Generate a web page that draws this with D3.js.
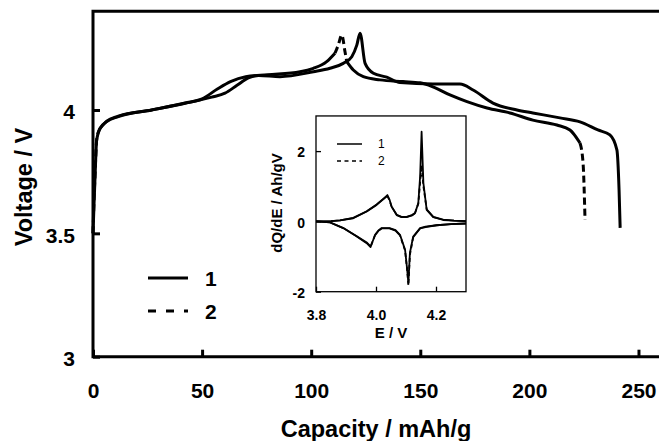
<!DOCTYPE html>
<html>
<head>
<meta charset="utf-8">
<script src="https://cdn.jsdelivr.net/npm/d3@7"></script>
<style>
  body { margin: 0; background: white; }
  text { font-family: "Liberation Sans", Arial, sans-serif; }
</style>
</head>
<body>
<div id="chart"></div>
<script>
// main chart: charge / discharge curves, capacity (mAh/g) vs voltage (V)
var capacity1 = [0, 0.4, 0.9, 1.7, 3.2, 6.3, 11.6, 26.9, 42.2, 54.4, 60.5, 66, 71.2, 76, 85.7, 101, 108.6, 114.7, 118.6, 120.9,
                 122.4, 124.7, 128.5, 134.6, 140.7, 155.8, 168.2, 174.2, 183.3, 194.3, 201.6, 214, 223.2, 231.4, 236.9, 240.1, 241.1, 241.6];
var voltage1 = [3.50, 3.60, 3.72, 3.88, 3.925, 3.953, 3.973, 4.0, 4.027, 4.052, 4.068, 4.10, 4.13, 4.14, 4.135, 4.155, 4.169, 4.189, 4.216, 4.263,
                4.311, 4.189, 4.149, 4.133, 4.111, 4.105, 4.105, 4.081, 4.028, 4.0, 3.988, 3.968, 3.952, 3.919, 3.899, 3.838, 3.676, 3.522];

var capacity2 = [0, 0.4, 0.9, 1.7, 3.2, 6.3, 11.6, 26.9, 42.2, 50, 57, 63, 70, 80, 94.9, 101, 107.1, 110.9, 112.4, 114,
                 115.5, 116.3, 119.3, 123.9, 131.5, 142.1, 149.9, 155.8, 163.6, 171.4, 180.6, 191.1, 201.6, 212.6, 218.6, 223.2, 224.6, 225.5];
var voltage2 = [3.50, 3.62, 3.73, 3.88, 3.925, 3.955, 3.975, 4.0, 4.028, 4.045, 4.085, 4.115, 4.135, 4.143, 4.155, 4.169, 4.196, 4.23, 4.263, 4.304,
                4.236, 4.196, 4.162, 4.135, 4.122, 4.115, 4.11, 4.094, 4.061, 4.034, 4.008, 3.988, 3.959, 3.939, 3.919, 3.866, 3.785, 3.554];

var xTicks = [0, 50, 100, 150, 200, 250];
var yTicks = [3, 3.5, 4];
var seriesNames = ["1", "2"];

// inset: dQ/dE vs E, oxidation branch (left to right) and reduction branch (right to left)
var insetOxE = [3.80, 3.85, 3.88, 3.924, 3.969, 4.002, 4.024, 4.038, 4.045, 4.052, 4.069, 4.085, 4.102, 4.12, 4.13, 4.141, 4.147, 4.152, 4.158, 4.169, 4.191, 4.224, 4.26, 4.30];
var insetOxDQ1 = [0.0, 0.01, 0.03, 0.09, 0.28, 0.47, 0.63, 0.75, 0.62, 0.42, 0.18, 0.12, 0.12, 0.17, 0.23, 0.52, 1.27, 2.55, 1.09, 0.33, 0.12, 0.04, 0.02, 0.01];
var insetOxDQ2 = [0.0, 0.01, 0.03, 0.10, 0.29, 0.48, 0.64, 0.72, 0.60, 0.42, 0.19, 0.13, 0.13, 0.18, 0.24, 0.50, 1.10, 1.60, 1.00, 0.34, 0.13, 0.05, 0.02, 0.01];

var insetRedE = [4.30, 4.25, 4.202, 4.165, 4.147, 4.124, 4.113, 4.108, 4.104, 4.097, 4.08, 4.065, 4.045, 4.019, 4.008, 3.997, 3.982, 3.969, 3.936, 3.891, 3.847, 3.80];
var insetRedDQ1 = [-0.06, -0.08, -0.11, -0.15, -0.19, -0.43, -0.9, -1.76, -1.38, -0.81, -0.38, -0.25, -0.19, -0.19, -0.26, -0.38, -0.73, -0.62, -0.43, -0.19, -0.03, 0.0];
var insetRedDQ2 = [-0.06, -0.08, -0.11, -0.16, -0.20, -0.45, -0.95, -1.82, -1.40, -0.83, -0.40, -0.26, -0.20, -0.20, -0.27, -0.39, -0.71, -0.60, -0.42, -0.19, -0.03, 0.0];

var insetXTicks = [3.8, 4.0, 4.2];
var insetYTicks = [-2, 0, 2];

function zip(xs, ys) {
    var out = [];
    for (var i = 0; i < xs.length; i++) {
        out.push({x: xs[i], y: ys[i]});
    }
    return out;
}

// the dashed series looks solid on the flat parts in the original,
// dashes only show where the curve is steep. split it into runs.
function drawDashed(g, data, xs, ys, width, dash, curve) {
    var runs = [];
    var cur = null;
    for (var i = 0; i < data.length - 1; i++) {
        var dx = Math.abs(xs(data[i + 1].x) - xs(data[i].x));
        var dy = Math.abs(ys(data[i + 1].y) - ys(data[i].y));
        var steep = dy > 2 * dx;
        if (!cur || cur.steep != steep) {
            cur = {steep: steep, pts: [data[i]]};
            runs.push(cur);
        }
        cur.pts.push(data[i + 1]);
    }
    var line = d3.line().x((d) => xs(d.x)).y((d) => ys(d.y)).curve(curve);
    runs.forEach(function(r) {
        g.append("path")
            .attr("d", line(r.pts))
            .attr("fill", "none")
            .attr("stroke", "black")
            .attr("stroke-width", width)
            .attr("stroke-dasharray", r.steep ? dash : null);
    });
}

const width = 659;
const height = 441;

const xScale = d3.scaleLinear().domain([0, 260]).range([93, 660.3]);
const yScale = d3.scaleLinear().domain([3, 4.4]).range([356.7, 11.3]);
const plain = (d) => String(d);

let svg = d3.select("#chart")
    .append("svg")
    .attr("width", width)
    .attr("height", height)
    .style("background", "white");

// frame: left, top and bottom (right side runs off the picture)
svg.append("path")
    .attr("d", `M${xScale(260)},${yScale(4.4)}H${xScale(0)}V${yScale(3)}H${xScale(260)}`)
    .attr("fill", "none")
    .attr("stroke", "black")
    .attr("stroke-width", 3);

// y-axis
let yAxis = svg.append("g")
    .attr("transform", `translate(${xScale(0)},0)`)
    .call(d3.axisLeft(yScale).tickValues(yTicks).tickFormat(plain).tickSize(-7).tickSizeOuter(0).tickPadding(18));
yAxis.select(".domain").remove();
yAxis.selectAll(".tick line").attr("stroke-width", 3);
yAxis.selectAll(".tick text")
    .attr("dy", "0.42em")
    .style("font-size", "21px")
    .style("font-weight", "bold")
    .attr("fill", "black");

// x-axis
let xAxis = svg.append("g")
    .attr("transform", `translate(0,${yScale(3)})`)
    .call(d3.axisBottom(xScale).tickValues(xTicks).tickFormat(plain).tickSize(-7).tickSizeOuter(0).tickPadding(26));
xAxis.select(".domain").remove();
xAxis.selectAll(".tick line").attr("stroke-width", 3);
xAxis.selectAll(".tick text")
    .style("font-size", "21px")
    .style("font-weight", "bold")
    .attr("fill", "black");

// axis titles
svg.append("text")
    .attr("x", 376)
    .attr("y", 437)
    .attr("text-anchor", "middle")
    .style("font-size", "23.5px")
    .style("font-weight", "bold")
    .text("Capacity / mAh/g");

svg.append("text")
    .attr("transform", "translate(32,187) rotate(-90)")
    .attr("text-anchor", "middle")
    .style("font-size", "23.5px")
    .style("font-weight", "bold")
    .text("Voltage / V");

// curves
let main = svg.append("g");
main.append("path")
    .attr("d", d3.line().x((d) => xScale(d.x)).y((d) => yScale(d.y)).curve(d3.curveMonotoneX)(zip(capacity1, voltage1)))
    .attr("fill", "none")
    .attr("stroke", "black")
    .attr("stroke-width", 3)
    .attr("stroke-linejoin", "round");
drawDashed(main, zip(capacity2, voltage2), xScale, yScale, 3, "7,4", d3.curveMonotoneX);

// legend
var legY = [278, 311];
seriesNames.forEach(function(name, i) {
    svg.append("line")
        .attr("x1", 148).attr("x2", 188)
        .attr("y1", legY[i]).attr("y2", legY[i])
        .attr("stroke", "black")
        .attr("stroke-width", 3)
        .attr("stroke-dasharray", i == 1 ? "8,10" : null);
    svg.append("text")
        .attr("x", 205)
        .attr("y", legY[i])
        .attr("dy", "0.36em")
        .style("font-size", "21px")
        .style("font-weight", "bold")
        .text(name);
});

// ---------- inset ----------
const ix = d3.scaleLinear().domain([3.8, 4.3]).range([316, 466]);
const iy = d3.scaleLinear().domain([-2, 3]).range([291.7, 115.95]);

svg.append("rect")
    .attr("x", ix(3.8)).attr("y", iy(3))
    .attr("width", ix(4.3) - ix(3.8))
    .attr("height", iy(-2) - iy(3))
    .attr("fill", "white")
    .attr("stroke", "black")
    .attr("stroke-width", 1.3);

let iyAxis = svg.append("g")
    .attr("transform", `translate(${ix(3.8)},0)`)
    .call(d3.axisLeft(iy).tickValues(insetYTicks).tickFormat(plain).tickSize(-5).tickSizeOuter(0).tickPadding(11));
iyAxis.select(".domain").remove();
iyAxis.selectAll(".tick line").attr("stroke-width", 1.3);
iyAxis.selectAll(".tick text")
    .attr("dy", "0.42em")
    .style("font-size", "14px")
    .style("font-weight", "bold")
    .attr("fill", "black");

let ixAxis = svg.append("g")
    .attr("transform", `translate(0,${iy(-2)})`)
    .call(d3.axisBottom(ix).tickValues(insetXTicks).tickFormat(d3.format(".1f")).tickSize(-5).tickSizeOuter(0).tickPadding(18));
ixAxis.select(".domain").remove();
ixAxis.selectAll(".tick line").attr("stroke-width", 1.3);
ixAxis.selectAll(".tick text")
    .style("font-size", "14px")
    .style("font-weight", "bold")
    .attr("fill", "black");

svg.append("text")
    .attr("x", 391)
    .attr("y", 338)
    .attr("text-anchor", "middle")
    .style("font-size", "15px")
    .style("font-weight", "bold")
    .text("E / V");

svg.append("text")
    .attr("transform", "translate(282,203) rotate(-90)")
    .attr("text-anchor", "middle")
    .style("font-size", "15px")
    .style("font-weight", "bold")
    .text("dQ/dE / Ah/gV");

let inset = svg.append("g");
let iline = d3.line().x((d) => ix(d.x)).y((d) => iy(d.y));
[zip(insetOxE, insetOxDQ1), zip(insetRedE, insetRedDQ1)].forEach(function(d) {
    inset.append("path")
        .attr("d", iline(d))
        .attr("fill", "none")
        .attr("stroke", "black")
        .attr("stroke-width", 1.8)
        .attr("stroke-linejoin", "round");
});
drawDashed(inset, zip(insetOxE, insetOxDQ2), ix, iy, 1.8, "4,3", d3.curveLinear);
drawDashed(inset, zip(insetRedE, insetRedDQ2), ix, iy, 1.8, "4,3", d3.curveLinear);

// inset legend
var iLegY = [144, 161];
seriesNames.forEach(function(name, i) {
    svg.append("line")
        .attr("x1", 337).attr("x2", 362)
        .attr("y1", iLegY[i]).attr("y2", iLegY[i])
        .attr("stroke", "black")
        .attr("stroke-width", 1.5)
        .attr("stroke-dasharray", i == 1 ? "4,3.5" : null);
    svg.append("text")
        .attr("x", 378)
        .attr("y", iLegY[i])
        .attr("dy", "0.36em")
        .style("font-size", "12px")
        .text(name);
});
</script>
</body>
</html>
